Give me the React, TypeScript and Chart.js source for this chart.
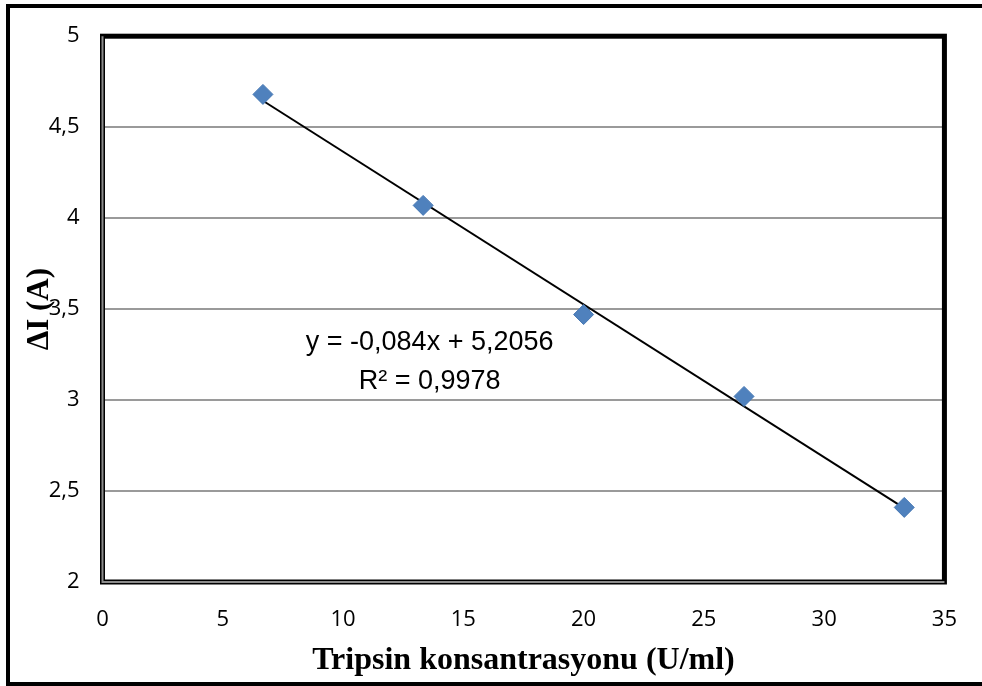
import React, { useEffect, useRef } from "react";
import { Chart, registerables } from "chart.js";

Chart.register(...registerables);

const concentrations = [6.67, 13.33, 20, 26.67, 33.33];
const deltaI = [4.68, 4.07, 3.47, 3.02, 2.41];
const trendSlope = -0.084;
const trendIntercept = 5.2056;
const trendRange = [6.67, 33.33];
const equationLines = ["y = -0,084x + 5,2056", "R² = 0,9978"];
const xTitle = "Tripsin konsantrasyonu (U/ml)";
const yTitle = "ΔI (A)";

const framePlugin = {
  id: "frame",
  afterDraw(chart: any) {
    const { ctx, chartArea, width, height } = chart;
    const { left, right, top, bottom } = chartArea;
    ctx.save();
    // outer border (right side cropped in reference)
    ctx.strokeStyle = "#000";
    ctx.lineWidth = 4;
    ctx.beginPath();
    ctx.moveTo(width + 10, 6);
    ctx.lineTo(8, 6);
    ctx.lineTo(8, height - 2);
    ctx.lineTo(width + 10, height - 2);
    ctx.stroke();
    // plot frame
    ctx.lineWidth = 5;
    ctx.strokeRect(left, top, right - left, bottom - top);
    ctx.strokeStyle = "#8c8c8c";
    ctx.lineWidth = 2;
    ctx.beginPath();
    ctx.moveTo(left, top);
    ctx.lineTo(left, bottom);
    ctx.lineTo(right, bottom);
    ctx.stroke();
    // equation
    const xs = chart.scales.x;
    const ys = chart.scales.y;
    ctx.fillStyle = "#000";
    ctx.font = "27px 'Liberation Sans', Arial, sans-serif";
    ctx.textAlign = "center";
    ctx.textBaseline = "middle";
    const cx = xs.getPixelForValue(13.6);
    ctx.fillText(equationLines[0], cx, ys.getPixelForValue(3.315));
    ctx.fillText(equationLines[1], cx, ys.getPixelForValue(3.101));
    ctx.restore();
  },
};

export default function App() {
  const ref = useRef<HTMLCanvasElement>(null);
  useEffect(() => {
    document.body.style.margin = "0";
    const trend = trendRange.map((x) => ({ x, y: trendSlope * x + trendIntercept }));
    const chart = new Chart(ref.current!, {
      type: "scatter",
      data: {
        datasets: [
          {
            label: "trend",
            data: trend,
            showLine: true,
            borderColor: "#000",
            borderWidth: 2,
            pointRadius: 0,
            order: 2,
          },
          {
            label: "data",
            data: concentrations.map((x, i) => ({ x, y: deltaI[i] })),
            pointStyle: "rectRot",
            pointRadius: 10,
            backgroundColor: "#4F81BD",
            borderColor: "#4677B3",
            borderWidth: 1,
            order: 1,
          },
        ],
      },
      plugins: [framePlugin],
      options: {
        animation: false,
        responsive: false,
        layout: { padding: { left: 0, right: 35, top: 34, bottom: 0 } },
        plugins: { legend: { display: false }, tooltip: { enabled: false } },
        scales: {
          x: {
            type: "linear",
            min: 0,
            max: 35,
            ticks: {
              stepSize: 5,
              padding: 25,
              color: "#000",
              font: { family: "'Open Sans', sans-serif", size: 22 },
            },
            grid: { display: false, drawTicks: false },
            border: { display: false },
            title: {
              display: true,
              text: xTitle,
              color: "#000",
              font: { family: "'Liberation Serif', 'Times New Roman', serif", size: 32, weight: "bold" },
              padding: { top: 0, bottom: 6 },
            },
            afterFit(scale: any) {
              scale.height = 104;
            },
          },
          y: {
            type: "linear",
            min: 2,
            max: 5,
            ticks: {
              stepSize: 0.5,
              padding: 23,
              color: "#000",
              font: { family: "'Open Sans', sans-serif", size: 22 },
              callback: (v: any) => String(v).replace(".", ","),
            },
            grid: { color: "#9a9a9a", lineWidth: 2, drawTicks: false },
            border: { display: false },
            title: {
              display: true,
              text: yTitle,
              color: "#000",
              font: { family: "'Liberation Serif', 'Times New Roman', serif", size: 31, weight: "bold" },
              padding: { top: 21, bottom: 0 },
            },
            afterFit(scale: any) {
              scale.width = 102.5;
            },
          },
        },
      },
    });
    return () => chart.destroy();
  }, []);
  return <canvas ref={ref} width={982} height={686} style={{ display: "block" }} />;
}
